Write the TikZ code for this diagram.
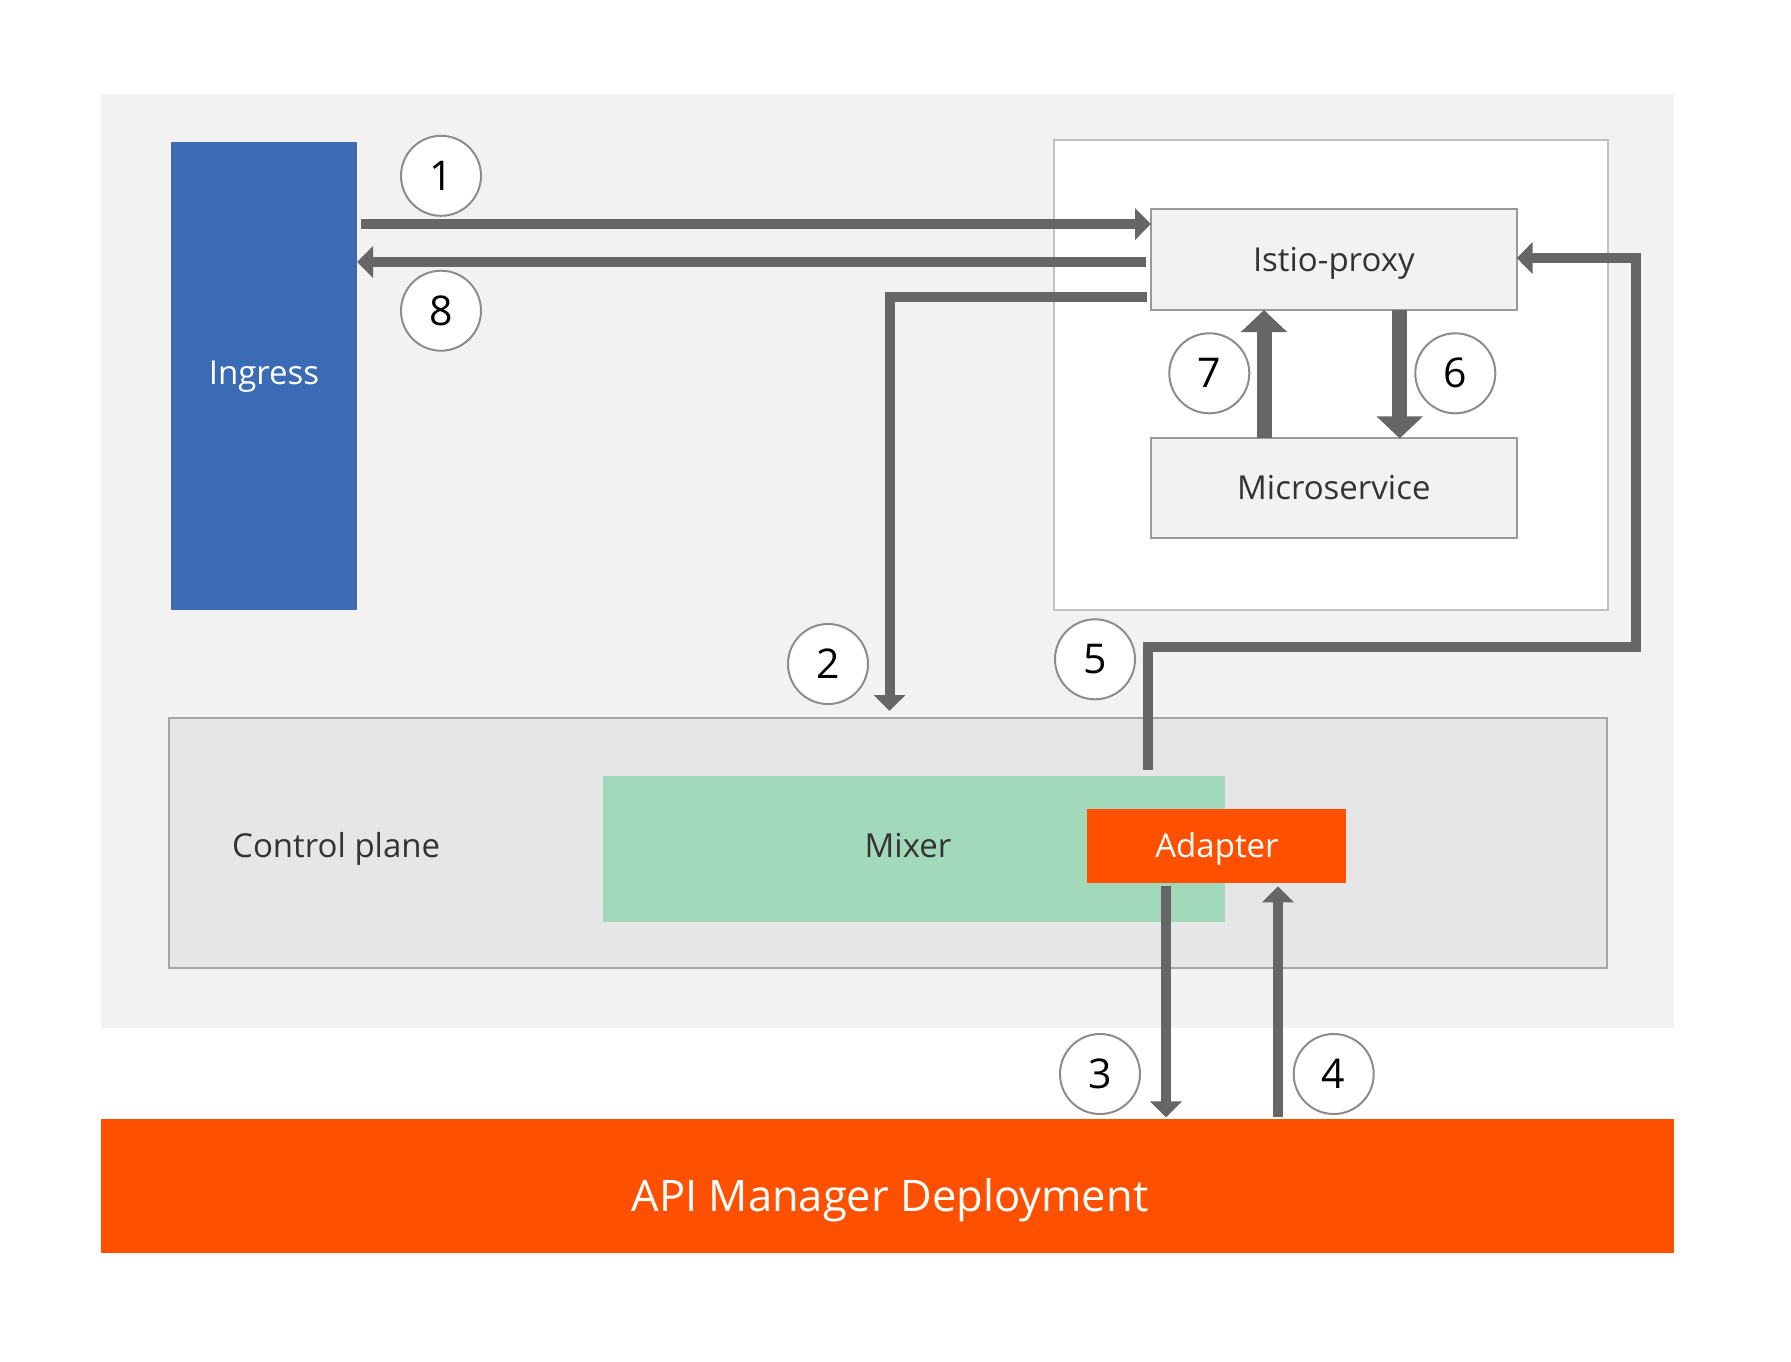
\documentclass[tikz,border=0pt]{standalone}
\usepackage{fontspec}
\setmainfont{Open Sans}
\usetikzlibrary{arrows.meta,calc,fit}
\definecolor{bggray}{HTML}{F2F2F2}
\definecolor{arrgray}{HTML}{666666}
\definecolor{ingblue}{HTML}{3B6BB5}
\definecolor{orng}{HTML}{FF5000}
\definecolor{mixgreen}{HTML}{A3D9BB}
\definecolor{cpfill}{HTML}{E6E6E6}
\definecolor{cpline}{HTML}{A6A6A6}
\definecolor{boxline}{HTML}{999999}
\definecolor{outline}{HTML}{C0C0C0}
\definecolor{circline}{HTML}{8C8C8C}
\definecolor{txtdark}{HTML}{333333}
\newcommand\lblfont{\fontsize{33}{40}\selectfont}
\begin{document}
\begin{tikzpicture}[x=1pt,y=-1pt,
  area/.style={inner sep=0pt, outer sep=0pt},
  box/.style={area, draw, line width=2pt},
  lbl/.style={inner sep=0pt, font=\lblfont, text height=23.5pt, text depth=0pt},
  thinarr/.style={draw=arrgray, line width=10pt, line join=miter, -{Triangle[width=31pt,length=16pt]}},
  thickarr/.style={draw=arrgray, line width=15pt, -{Triangle[width=45pt,length=22pt]}},
  num/.style={circle, draw=circline, fill=white, line width=2pt, minimum size=80pt, inner sep=0pt,
    font=\fontsize{41}{48}\selectfont, text height=29pt, text depth=0pt, text=black}]
\useasboundingbox (0,0) rectangle (1791,1361);
% backgrounds
\node[area, fill=bggray, fit={(100.5,93.6) (1673.5,1028)}] (bg) {};
\node[area, draw=outline, fill=white, line width=2pt, fit={(1054,140.4) (1608,609.6)}] (pod) {};
\node[area, fill=ingblue, fit={(171,141.6) (357,609.6)}] (ingress) {};
\node[lbl, text=white] (inglbl) at (264,372.5) {Ingress};
\node[box, draw=boxline, fill=bggray, fit={(1151,209.3) (1516.7,310)}] (istio) {};
\node[lbl, text=txtdark] (istiolbl) at (istio.center) {Istio-proxy};
\node[box, draw=boxline, fill=bggray, fit={(1151,438.4) (1516.7,537.7)}] (micro) {};
\node[lbl, text=txtdark] (microlbl) at (micro.center) {Microservice};
\node[area, draw=cpline, fill=cpfill, line width=2pt, fit={(169,718.3) (1607,967.7)}] (cp) {};
\node[lbl, text=txtdark, anchor=west] (cplbl) at (232,845.7) {Control plane};
\node[area, fill=mixgreen, fit={(602.7,776) (1225,921.7)}] (mixer) {};
\node[lbl, text=txtdark] (mixlbl) at (908,845.7) {Mixer};
\node[area, fill=orng, fit={(1086.8,809) (1346,883.3)}] (adapter) {};
\node[lbl, text=white] (adaptlbl) at (1217,845.7) {Adapter};
\node[area, fill=orng, fit={(100.5,1119.3) (1673.5,1253.3)}] (api) {};
\node[inner sep=0pt, font=\fontsize{43.5}{50}\selectfont, text=white, text height=31pt, text depth=0pt] (apilbl) at (890,1195.5) {API Manager Deployment};
% helper coordinates
\coordinate (r1) at (0,224);
\coordinate (r8) at (0,262);
\coordinate (r2) at (0,297);
\coordinate (r5) at (0,258);
\coordinate (c2) at (889.5,711);
\coordinate (s5) at (1147.7,770);
\coordinate (k5) at (1636,646.7);
\coordinate (x3) at (1166,0);
\coordinate (x4) at (1278,0);
\coordinate (x6) at (1399.7,0);
\coordinate (x7) at (1264,0);
% connectors
\draw[thinarr] ($(ingress.east |- r1)+(4,0)$) -- (istio.west |- r1);
\draw[thinarr] ($(istio.west |- r8)+(-5,0)$) -- (ingress.east |- r8);
\draw[thinarr] ($(istio.west |- r2)+(-4,0)$) -| (c2);
\draw[thinarr] (s5) |- (k5) |- (istio.east |- r5);
\draw[thinarr] ($(adapter.south -| x3)+(0,3)$) -- ($(api.north -| x3)+(0,-2)$);
\draw[thinarr] ($(api.north -| x4)+(0,-2)$) -- ($(adapter.south -| x4)+(0,3)$);
\draw[thickarr] (istio.south -| x6) -- (micro.north -| x6);
\draw[thickarr] (micro.north -| x7) -- (istio.south -| x7);
% step numbers
\node[num] (n1) at (441,175.8) {1};
\node[num] (n8) at (441,310.7) {8};
\node[num] (n7) at (1209.3,373.3) {7};
\node[num] (n6) at (1455.3,373.3) {6};
\node[num] (n2) at (828,664) {2};
\node[num] (n5) at (1095,659.3) {5};
\node[num] (n3) at (1100,1074) {3};
\node[num] (n4) at (1333.7,1074) {4};
\end{tikzpicture}
\end{document}
